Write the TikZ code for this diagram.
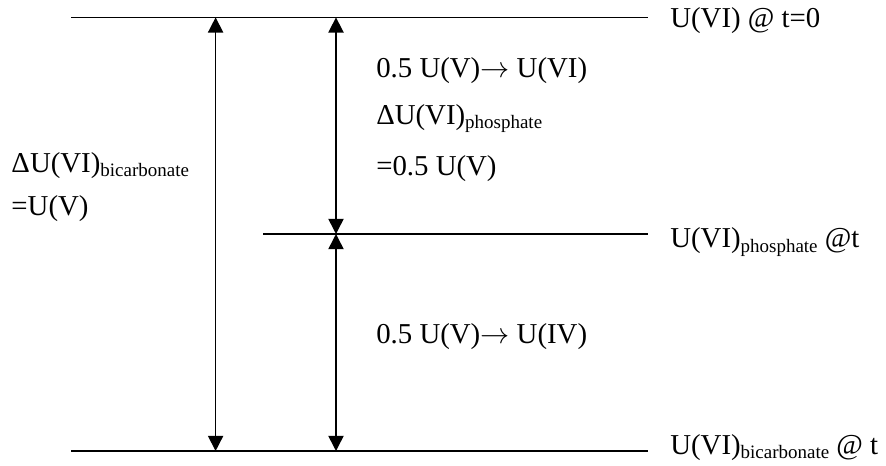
\documentclass[tikz,border=0pt]{standalone}
\usepackage{fontspec}
\setmainfont{Liberation Serif}
\usetikzlibrary{arrows.meta, positioning, calc}
\newcommand{\chemsub}[1]{\raisebox{-0.15em}{\fontsize{13.5}{15}\selectfont #1}}

\begin{document}
\begin{tikzpicture}[
    level/.style={line width=1.2pt},
    dim/.style={line width=1.1pt, {Triangle[length=0.38cm, width=0.38cm]}-{Triangle[length=0.38cm, width=0.38cm]}},
    lab/.style={anchor=base west, inner sep=0pt, font=\fontsize{20.5}{24}\selectfont}
]
\useasboundingbox (0,0) rectangle (22.15,11.625);

% Levels
\coordinate (topL) at (1.775, 11.19);
\coordinate (topR) at (16.2, 11.19);
\coordinate (midL) at (6.575, 5.775);
\coordinate (midR) at (16.2, 5.775);
\coordinate (botL) at (1.775, 0.35);
\coordinate (botR) at (16.2, 0.35);

\draw[level] (topL) -- (topR);
\draw[level, line width=1pt] (midL) -- (midR);
\draw[level] (botL) -- (botR);

% Arrow ends
\coordinate (A1) at (5.39, 11.19);
\coordinate (A2) at (5.39, 0.35);
\coordinate (B1) at (8.4, 11.19);
\coordinate (B2) at (8.4, 5.775);
\coordinate (B3) at (8.4, 0.35);

\draw[dim] (A1) -- (A2);
\draw[dim] (B1) -- (B2);
\draw[dim] (B2) -- (B3);

% Labels
\node[lab] (Ltop) at (16.75, 10.93) {U(VI) @ t=0};
\node[lab] (Lmid) at (16.75, 5.43) {U(VI)\chemsub{phosphate} @t};
\node[lab] (Lbot) at (16.75, 0.26) {U(VI)\chemsub{bicarbonate} @ t};

\node[lab] (Dbic) at (0.28, 7.32) {ΔU(VI)\chemsub{bicarbonate}};
\node[lab] (Dbic2) at (0.28, 6.25) {=U(V)};

\node[lab] (Ox) at (9.4, 9.675) {0.5 U(V)$\rightarrow$ U(VI)};
\node[lab] (Dpho) at (9.4, 8.51) {ΔU(VI)\chemsub{phosphate}};
\node[lab] (Dpho2) at (9.4, 7.25) {=0.5 U(V)};
\node[lab] (Red) at (9.4, 3.05) {0.5 U(V)$\rightarrow$ U(IV)};

\end{tikzpicture}
\end{document}
